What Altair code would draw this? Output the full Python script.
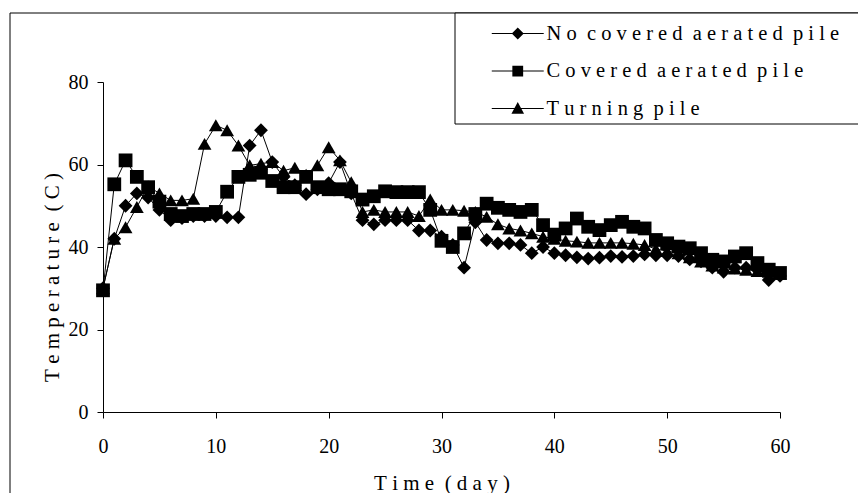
import altair as alt
import pandas as pd

# ---------------- data ----------------
DAYS = list(range(61))
SERIES = ["No covered aerated pile", "Covered aerated pile", "Turning pile"]

NO_COVERED = [30, 42, 50, 53, 52, 49, 46.5, 47, 47.5, 47.5,
              47.5, 47.2, 47.2, 64.6, 68.3, 60.6, 57, 55, 52.8, 54,
              55.5, 60.6, 53, 46.5, 45.5, 46.5, 46.5, 46.5, 44, 44,
              42.5, 40.5, 35, 46, 41.7, 40.9, 40.9, 40.5, 38.5, 40,
              38.5, 38, 37.5, 37.2, 37.4, 37.8, 37.6, 37.8, 38.2, 38,
              38, 37.8, 37, 36.5, 35, 34, 35, 35, 34.5, 32,
              33]
COVERED = [29.5, 55.2, 61, 57, 54.5, 51, 48, 47.5, 48, 48,
           48.5, 53.4, 57, 57.5, 58, 56, 54.5, 54.5, 57, 54.5,
           54, 54, 53.5, 51.5, 52.3, 53.5, 53.3, 53.3, 53.3, 49,
           41.5, 40, 43.3, 48, 50.5, 49.5, 49, 48.5, 49, 45.3,
           43, 44.5, 46.9, 44.9, 44.1, 45.3, 46.1, 44.9, 44.5, 41.7,
           40.9, 40.1, 39.7, 38.5, 36.9, 36.5, 37.7, 38.5, 36.1, 34.5,
           33.7]
TURNING = [30, 42, 44.8, 49.7, 54.7, 53, 51.3, 51.3, 51.7, 65,
           69.5, 68.3, 64.6, 59.8, 60.2, 60.6, 58.5, 59.2, 57.5, 59.8,
           64.2, 61, 55.7, 48.5, 49, 48.5, 48.5, 48.5, 47.5, 51.5,
           49, 49, 48.8, 48.5, 47.3, 45.5, 44.5, 44, 43.3, 42.5,
           42, 41.5, 41.3, 41, 41, 41, 41, 40.8, 40.5, 39.5,
           39, 38.5, 37.5, 36.5, 35.5, 35, 34.8, 34.5, 34.2, 34,
           33.5]

X_TICKS = [0, 10, 20, 30, 40, 50, 60]
Y_TICKS = [0, 20, 40, 60, 80]
X_TITLE = "Time (day)"
Y_TITLE = "Temperature (C)"


def spaced(s):
    """letter-spaced text as in the reference"""
    return "\u00a0\u00a0".join("\u00a0".join(w) for w in s.split(" "))


LABELS = [spaced(s) for s in SERIES]

rows = []
for name, vals in zip(LABELS, [NO_COVERED, COVERED, TURNING]):
    for d, v in zip(DAYS, vals):
        rows.append({"series": name, "day": d, "temp": v})
df = pd.DataFrame(rows)

FONT = "Liberation Serif"
W, H = 677, 330

# legend symbols: thin bar (the line) + marker, all filled (unit = 6 px)
BAR = "M-4.33,-0.085L4.33,-0.085L4.33,0.085L-4.33,0.085Z"
LEGEND_PATHS = [
    BAR + "M0,-1L1,0L0,1L-1,0Z",
    BAR + "M-0.9,-0.9L0.9,-0.9L0.9,0.9L-0.9,0.9Z",
    BAR + "M0,-1.1L1.05,0.85L-1.05,0.85Z",
]

x_enc = alt.X("day:Q",
              scale=alt.Scale(domain=[0, 60], nice=False, zero=False),
              axis=alt.Axis(values=X_TICKS, format="d", title=spaced(X_TITLE),
                            labelFlush=False, labelPadding=18,
                            titleX=W / 2, titleY=77, titleAlign="center",
                            titleBaseline="alphabetic"))
y_enc = alt.Y("temp:Q",
              scale=alt.Scale(domain=[0, 80], nice=False),
              axis=alt.Axis(values=Y_TICKS, format="d", title=spaced(Y_TITLE),
                            labelPadding=9, titleAngle=270, titleX=-45,
                            titleY=195, titleAlign="center",
                            titleBaseline="alphabetic"))

one = pd.DataFrame({"k": [0]})
frame = alt.Chart(one).mark_rect(fill="white", fillOpacity=0, stroke="black",
                                 strokeWidth=1).encode(
    x=alt.value(-93), x2=alt.value(900), y=alt.value(-69), y2=alt.value(600))
legend_box = alt.Chart(one).mark_rect(fill="white", stroke="black", strokeWidth=1).encode(
    x=alt.value(352), x2=alt.value(900), y=alt.value(-69), y2=alt.value(42))

base = alt.Chart(df)
lines = base.mark_line(color="black", strokeWidth=1).encode(
    x=x_enc, y=y_enc, detail="series:N", order="day:Q")
points = base.mark_point(filled=True, color="black", size=190, opacity=1).encode(
    x=x_enc, y=y_enc,
    shape=alt.Shape("series:N",
                    scale=alt.Scale(domain=LABELS,
                                    range=["diamond", "square", "triangle-up"]),
                    legend=None))
legend_layer = base.mark_point(filled=True, color="black", size=144,
                               opacity=0).encode(
    x=x_enc, y=y_enc,
    shape=alt.Shape("series:N",
                    scale=alt.Scale(domain=LABELS, range=LEGEND_PATHS),
                    legend=alt.Legend(title=None, orient="none",
                                      legendX=404.5, legendY=-58.7,
                                      padding=0, rowPadding=16.5,
                                      labelFont=FONT, labelFontSize=20.5,
                                      labelColor="black", labelOffset=18.5,
                                      labelLimit=0,
                                      symbolSize=144, symbolOpacity=1,
                                      symbolFillColor="black",
                                      symbolStrokeWidth=0)))

chart = alt.layer(frame, legend_box, lines, points, legend_layer).resolve_scale(
    shape="independent"
).properties(
    width=W, height=H,
    autosize=alt.AutoSizeParams(type="none"),
    padding={"left": 103, "top": 82, "right": 78, "bottom": 81},
    background="white",
).configure_view(strokeWidth=0).configure_axis(
    grid=False, domainColor="black", tickColor="black", labelColor="black",
    titleColor="black", labelFont=FONT, titleFont=FONT, labelFontSize=20,
    titleFontSize=21, titleFontWeight="normal", tickSize=6, domainWidth=1,
    tickWidth=1,
)

chart.save("out.html", embed_options={"renderer": "svg", "actions": False})
